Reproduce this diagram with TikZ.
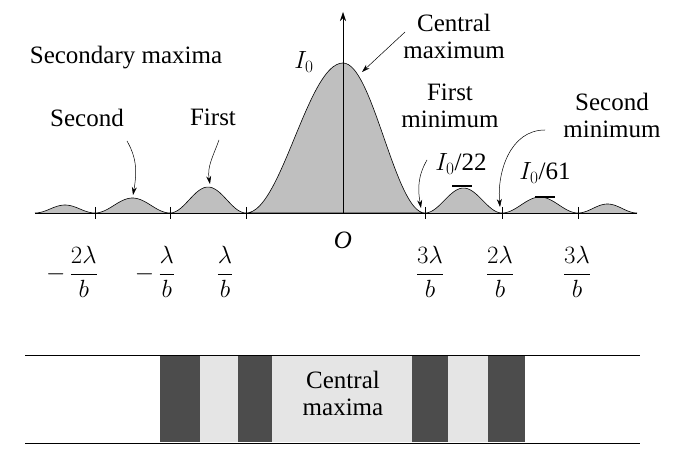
\documentclass[tikz,border=0pt]{standalone}
\usepackage{fontspec}
\setmainfont{Liberation Serif}
\usepackage{amsmath}
\usetikzlibrary{arrows.meta}
\tikzstyle{lbl} = [font=\fontsize{25}{27}\selectfont, align=center, inner sep=1pt]
\tikzstyle{ratio} = [font=\fontsize{28}{30}\selectfont, inner sep=1pt]
\tikzstyle{pointer} = [line width=0.5pt, -{Stealth[length=8pt,width=5pt]}]
\tikzstyle{lobe} = [fill=gray!50, draw=black, line width=0.6pt]
\begin{document}
\begin{tikzpicture}[x=1pt, y=-1pt]
            \useasboundingbox (0,0) rectangle (679,470);
            % side lobes
            \foreach \a/\b/\h in {35/95/8, 95/170/15, 170/246/26, 425/502/25, 502/578/16, 578/637/9}
                \draw [lobe] plot[domain=\a:\b, samples=30, smooth] (\x,{213-\h*sin(180*(\x-\a)/(\b-\a))^2});
            % central lobe
            \draw [lobe] (246,213) -- plot[domain=246:343, samples=30, smooth] (\x,{213-150*cos(90*(343-\x)/97)^2})
                -- plot[domain=343:425, samples=30, smooth] (\x,{213-150*cos(90*(\x-343)/82)^2}) -- cycle;
            % axes
            \coordinate (left) at (35,213);
            \coordinate (right) at (637,213);
            \draw [line width=0.6pt] (left) -- (right);
            \coordinate (origin) at (343,213);
            \coordinate (top) at (343,12);
            \draw [line width=0.6pt, -{Stealth[length=9pt,width=6pt]}] (origin) -- (top);
            \foreach \t in {95,170,246,425,502,578}
                \draw [line width=0.6pt] (\t,207) -- (\t,219);
            % small marks at peaks
            \draw [line width=1.2pt] (452,186) -- (472,186);
            \draw [line width=1.2pt] (535,197) -- (555,197);
            % labels
            \node (o) [lbl, font=\fontsize{25}{27}\selectfont\itshape] at (343,240) {O};
            \node (izero) [lbl] at (304,62) {$I_0$};
            \node (secmax) [lbl] at (126,58) {Secondary maxima};
            \node (second) [lbl] at (87,118) {Second};
            \node (first) [lbl] at (213,117) {First};
            \node (central) [lbl] at (454,36) {Central\\maximum};
            \node (firstmin) [lbl] at (450,106) {First\\minimum};
            \node (secondmin) [lbl] at (612,115) {Second\\minimum};
            \node (i22) [lbl] at (461,164) {$I_0$/22};
            \node (i61) [lbl] at (545,173) {$I_0$/61};
            \node (fa) [ratio] at (72,272) {$-\,\dfrac{2\lambda}{b}$};
            \node (fb) [ratio] at (155,272) {$-\,\dfrac{\lambda}{b}$};
            \node (fc) [ratio] at (225,272) {$\dfrac{\lambda}{b}$};
            \node (fd) [ratio] at (430,272) {$\dfrac{3\lambda}{b}$};
            \node (fe) [ratio] at (500,272) {$\dfrac{2\lambda}{b}$};
            \node (ff) [ratio] at (577,272) {$\dfrac{3\lambda}{b}$};
            % pointers
            \coordinate (pk2) at (133,195);
            \coordinate (pk1) at (210,184);
            \coordinate (pk0) at (362,72);
            \coordinate (mn1) at (421,208);
            \coordinate (mn2) at (500,207);
            \coordinate (s2) at (127,141);
            \coordinate (s1) at (219,140);
            \coordinate (c0) at (405,32);
            \coordinate (m1) at (427,160);
            \coordinate (m2) at (545,130);
            \draw [pointer] (s2) to[out=-60, in=80] (pk2);
            \draw [pointer] (s1) to[out=-110, in=100] (pk1);
            \draw [pointer] (c0) -- (pk0);
            \draw [pointer] (m1) to[out=-120, in=100] (mn1);
            \draw [pointer] (m2) to[out=180, in=95] (mn2);
            % screen pattern
            \draw [line width=0.6pt] (25,355) -- (640,355);
            \draw [line width=0.6pt] (25,443) -- (640,443);
            \foreach \a/\b in {160/200, 238/272, 412/448, 488/525}
                \fill [gray!60!black] (\a,356) rectangle (\b,442);
            \foreach \a/\b in {200/238, 272/412, 448/488}
                \fill [gray!20] (\a,356) rectangle (\b,442);
            \node (cmax) [lbl] at (343,393) {Central\\maxima};
        \end{tikzpicture}
\end{document}
